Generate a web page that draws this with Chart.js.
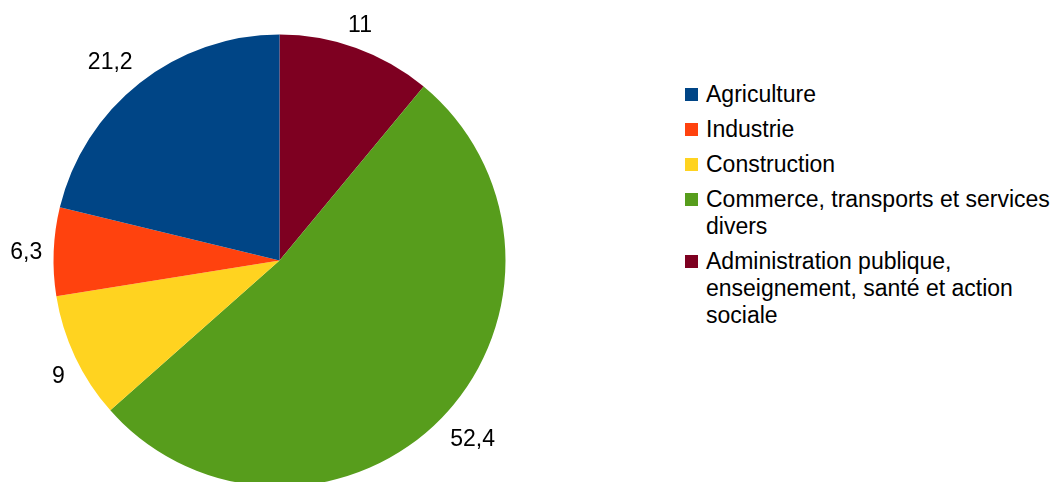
<!DOCTYPE html>
<html>
<head>
<meta charset="utf-8">
<script src="https://cdn.jsdelivr.net/npm/chart.js@4/dist/chart.umd.min.js"></script>
<style>
  html, body { margin: 0; padding: 0; background: #ffffff; overflow: hidden; width: 1056px; height: 482px; }
  #wrap { position: absolute; left: 0; top: 0; width: 560px; height: 540px; }
  #legend { position: absolute; left: 685px; top: 81px; font-family: "Liberation Sans", Arial, sans-serif; font-size: 23px; color: #000; }
  .item { display: flex; align-items: flex-start; margin-bottom: 8px; }
  .sw { width: 13px; height: 13px; flex: none; margin-top: 7px; margin-right: 8px; }
  .txt { width: 350px; line-height: 27px; }
</style>
</head>
<body>
<div id="wrap"><canvas id="c" width="560" height="540"></canvas></div>
<div id="legend"></div>
<script>
const categories = [
  "Agriculture",
  "Industrie",
  "Construction",
  "Commerce, transports et services divers",
  "Administration publique, enseignement, santé et action sociale"
];
const values = [21.2, 6.3, 9, 52.4, 11];
const valueLabels = ["21,2", "6,3", "9", "52,4", "11"];
const colors = ["#004586", "#ff420e", "#ffd320", "#579d1c", "#7e0021"];

// Slices run counter-clockwise from the top in the reference: feed them reversed to Chart.js (clockwise).
const order = categories.map((_, i) => i).reverse();

const FS = 23;
const labelFont = FS + 'px "Liberation Sans", Arial, sans-serif';

const outsideLabels = {
  id: 'outsideLabels',
  afterDatasetsDraw(chart) {
    const ctx = chart.ctx;
    const meta = chart.getDatasetMeta(0);
    ctx.save();
    ctx.font = labelFont;
    ctx.fillStyle = '#000';
    ctx.textAlign = 'center';
    ctx.textBaseline = 'alphabetic';
    const H = 1.117 * FS, asc = 0.905 * FS;
    meta.data.forEach((arc, i) => {
      const p = arc.getProps(['x', 'y', 'startAngle', 'endAngle', 'outerRadius'], true);
      const mid = (p.startAngle + p.endAngle) / 2;
      const r = p.outerRadius + 11.5;
      const ax = p.x + Math.cos(mid) * r;
      const ay = p.y + Math.sin(mid) * r;
      let deg = ((mid + Math.PI / 2) * 180 / Math.PI) % 360;
      if (deg < 0) deg += 360;
      const sector = Math.round(deg / 45) % 8;
      const hx = [0, 1, 1, 1, 0, -1, -1, -1][sector];
      const vy = [-1, -1, 0, 1, 1, 1, 0, -1][sector];
      const txt = valueLabels[order[i]];
      const w = ctx.measureText(txt).width;
      const cx = ax + hx * w / 2;
      const cy = ay + vy * H / 2;
      ctx.fillText(txt, cx, cy - H / 2 + asc);
    });
    ctx.restore();
  }
};

new Chart(document.getElementById('c'), {
  type: 'pie',
  data: {
    labels: order.map(i => categories[i]),
    datasets: [{
      data: order.map(i => values[i]),
      backgroundColor: order.map(i => colors[i]),
      borderWidth: 0
    }]
  },
  options: {
    responsive: false,
    animation: false,
    devicePixelRatio: 1,
    layout: { padding: { left: 53.5, top: 34.5, right: 54.5, bottom: 53.5 } },
    plugins: { legend: { display: false }, tooltip: { enabled: false } }
  },
  plugins: [outsideLabels]
});

// Legend (in category order)
const leg = document.getElementById('legend');
categories.forEach((name, i) => {
  const it = document.createElement('div');
  it.className = 'item';
  const sw = document.createElement('div');
  sw.className = 'sw';
  sw.style.background = colors[i];
  const t = document.createElement('div');
  t.className = 'txt';
  t.textContent = name;
  it.appendChild(sw);
  it.appendChild(t);
  leg.appendChild(it);
});
</script>
</body>
</html>
